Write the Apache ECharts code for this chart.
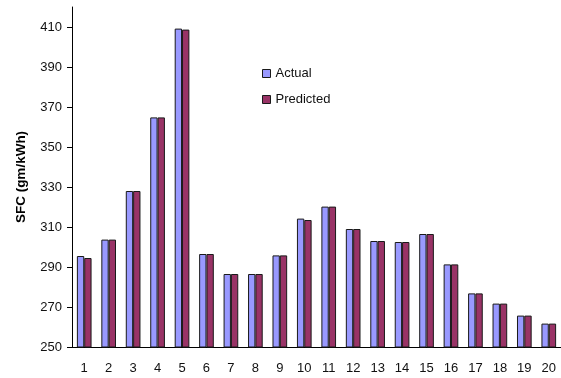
<!DOCTYPE html>
<html>
<head>
<meta charset="utf-8">
<script src="https://cdn.jsdelivr.net/npm/echarts@6/dist/echarts.min.js"></script>
<style>
  html, body { margin: 0; padding: 0; background: #fff; }
  #chart { width: 561px; height: 378px; }
</style>
</head>
<body>
<div id="chart"></div>
<script>
// Run numbers 1..20
const categories = ['1','2','3','4','5','6','7','8','9','10','11','12','13','14','15','16','17','18','19','20'];
// Specific fuel consumption, gm/kWh
const actual    = [295.5, 303.7, 328, 364.8, 409.2, 296.5, 286.5, 286.5, 295.8, 314.2, 320.2, 309, 303, 302.5, 306.5, 291.3, 276.8, 271.7, 265.7, 261.7];
const predicted = [294.5, 303.7, 328, 364.8, 408.7, 296.5, 286.5, 286.5, 295.8, 313.5, 320.2, 309, 303, 302.5, 306.5, 291.3, 276.8, 271.7, 265.7, 261.7];
const yTicks = [250, 270, 290, 310, 330, 350, 370, 390, 410];

const font = 'Liberation Sans, Arial, sans-serif';
const chart = echarts.init(document.getElementById('chart'), null, { renderer: 'canvas' });

chart.setOption({
  animation: false,
  backgroundColor: '#fff',
  textStyle: { fontFamily: font },
  grid: { left: 72, right: -2, top: 7, bottom: 31, containLabel: false },
  legend: {
    orient: 'vertical',
    left: 257,
    top: 62,
    icon: 'rect',
    itemWidth: 8,
    itemHeight: 8,
    itemGap: 13,
    itemTextGap: 6,
    textStyle: { fontFamily: font, fontSize: 13, color: '#111' },
    itemStyle: { borderColor: '#1a1a1a', borderWidth: 1 },
    data: ['Actual', 'Predicted']
  },
  xAxis: {
    type: 'category',
    data: categories,
    axisLine: { lineStyle: { color: '#000', width: 1 } },
    axisTick: { alignWithLabel: false, length: 4, lineStyle: { color: '#000' } },
    axisLabel: { color: '#111', fontSize: 13, fontFamily: font, margin: 15 }
  },
  yAxis: {
    type: 'value',
    min: 250,
    max: 420,
    interval: 10,
    name: 'SFC (gm/kWh)',
    nameLocation: 'middle',
    nameGap: 44,
    nameTextStyle: { fontFamily: font, fontSize: 13.5, fontWeight: 'bold', color: '#000' },
    axisLine: { show: true, lineStyle: { color: '#000', width: 1 } },
    axisTick: { show: true, length: 5, customValues: yTicks, lineStyle: { color: '#000' } },
    axisLabel: { color: '#111', fontSize: 13, fontFamily: font, margin: 10, customValues: yTicks },
    splitLine: { show: false }
  },
  series: [
    {
      name: 'Actual',
      type: 'bar',
      data: actual,
      barGap: '0%',
      barCategoryGap: '40%',
      itemStyle: { color: '#9999ff', borderColor: '#1a1a1a', borderWidth: 1 }
    },
    {
      name: 'Predicted',
      type: 'bar',
      data: predicted,
      barGap: '0%',
      barCategoryGap: '40%',
      itemStyle: { color: '#993366', borderColor: '#1a1a1a', borderWidth: 1 }
    }
  ]
});
</script>
</body>
</html>
